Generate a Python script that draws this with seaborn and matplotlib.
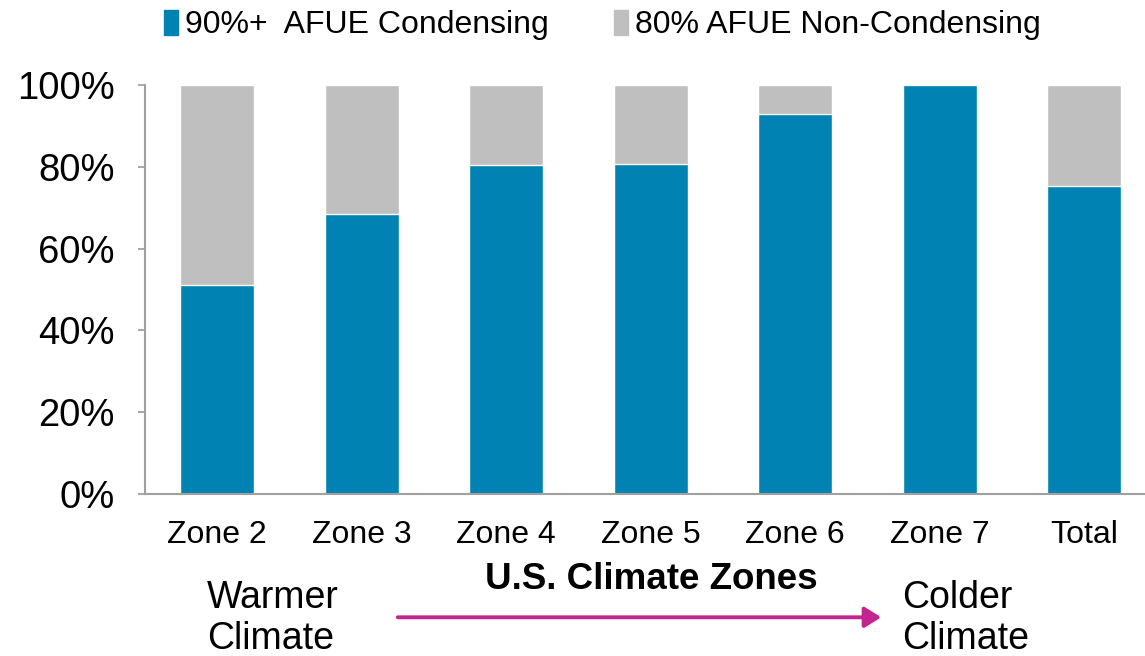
import pandas as pd
import matplotlib
matplotlib.use("Agg")
import matplotlib.pyplot as plt
from matplotlib.patches import Patch, FancyArrowPatch
from matplotlib.ticker import PercentFormatter
import seaborn as sns

# Share of furnaces by climate zone
zones = ["Zone 2", "Zone 3", "Zone 4", "Zone 5", "Zone 6", "Zone 7", "Total"]
condensing = [51.2, 68.5, 80.4, 80.8, 92.9, 100.0, 75.3]
non_condensing = [48.8, 31.5, 19.6, 19.2, 7.1, 0.0, 24.7]

blue = "#0083B3"
gray = "#BFBFBF"
magenta = "#C4248F"

df = pd.DataFrame({"zone": zones, "cond": condensing, "noncond": non_condensing})
df["stack"] = df["cond"] + df["noncond"]

sns.set_style("white")
plt.rcParams["font.family"] = ["Liberation Sans", "DejaVu Sans"]
plt.rcParams["text.color"] = "black"
plt.rcParams["xtick.color"] = "black"
plt.rcParams["ytick.color"] = "black"

fig = plt.figure(figsize=(11.45, 6.56), dpi=100)
ax = fig.add_axes([0.1266, 0.247, 0.8734, 0.623])

# stacked bars: full height in gray, condensing share in blue over it
sns.barplot(data=df, x="zone", y="stack", color=gray, width=0.51, saturation=1, ax=ax)
sns.barplot(data=df, x="zone", y="cond", color=blue, width=0.51, saturation=1, ax=ax)

ax.set_ylim(0, 100)
ax.set_xlim(-0.5, 6.42)
ax.set_yticks([0, 20, 40, 60, 80, 100])
ax.yaxis.set_major_formatter(PercentFormatter(decimals=0))
ax.tick_params(axis="y", labelsize=27.5, length=5, width=1.2, color="#999999", left=True, pad=17)
ax.tick_params(axis="x", labelsize=23, length=0, pad=19)
ax.set_xlabel("")
ax.set_ylabel("")

for side in ["top", "right"]:
    ax.spines[side].set_visible(False)
for side in ["left", "bottom"]:
    ax.spines[side].set_color("#A0A0A0")
    ax.spines[side].set_linewidth(1.5)

handles = [Patch(color=blue, label="90%+  AFUE Condensing"),
           Patch(color=gray, label="80% AFUE Non-Condensing")]
fig.legend(handles=handles, loc="center", bbox_to_anchor=(0.526, 0.962), ncol=2,
           frameon=False, fontsize=23, handlelength=0.45, handleheight=0.85,
           handletextpad=0.2, columnspacing=2.05)

# axis caption and warm -> cold annotation
fig.text(0.569, 0.116, "U.S. Climate Zones", fontsize=26.5, fontweight="bold", ha="center", va="center")
fig.text(0.181, 0.057, "Warmer\nClimate", fontsize=27, ha="left", va="center", linespacing=1.17)
fig.text(0.788, 0.057, "Colder\nClimate", fontsize=27, ha="left", va="center", linespacing=1.17)
fig.add_artist(FancyArrowPatch(
    (0.345, 0.059), (0.772, 0.059), transform=fig.transFigure,
    arrowstyle="-|>,head_length=4,head_width=2.5", color=magenta, lw=2.8, mutation_scale=2.5))

fig.savefig("out.png", dpi=100)
